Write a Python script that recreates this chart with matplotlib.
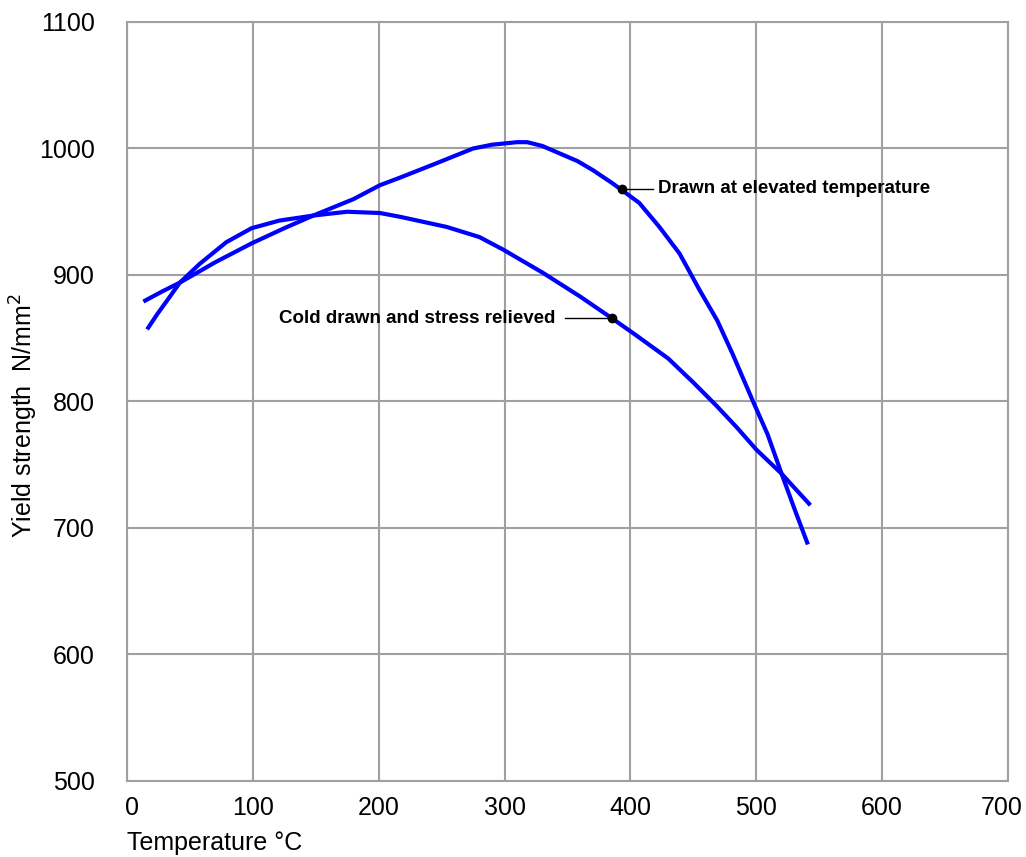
import numpy as np
import matplotlib.pyplot as plt
from matplotlib.transforms import ScaledTranslation

# Drawn at elevated temperature
elev_temp = [13, 28, 42, 70, 99, 125, 148, 180, 201, 217, 245, 275, 290, 300,
             310, 318, 330, 344, 358, 370, 385, 392, 407, 423, 439, 455, 469,
             481, 497, 509, 519, 530, 541]
elev_ys = [879, 887, 894, 910, 925, 937, 947, 960, 971, 977, 988, 1000, 1003, 1004,
           1005, 1005, 1002, 996, 990, 983, 973, 968, 957, 938, 917, 888, 864,
           838, 801, 774, 746, 716, 687]

# Cold drawn and stress relieved
cold_temp = [16, 24, 32, 42, 58, 79, 99, 121, 148, 175, 201, 217, 254, 280,
             299, 330, 360, 385, 405, 430, 450, 469, 485, 500, 520, 543]
cold_ys = [857, 869, 880, 894, 909, 926, 937, 943, 947, 950, 949, 946, 938, 930,
           920, 902, 883, 866, 852, 834, 815, 796, 779, 762, 743, 718]

x_ticks = [0, 100, 200, 300, 400, 500, 600, 700]
y_ticks = [500, 600, 700, 800, 900, 1000, 1100]

plt.rcParams["font.family"] = ["Liberation Sans", "DejaVu Sans"]

fig = plt.figure(figsize=(10.26, 8.57), dpi=100)
ax = fig.add_axes([127 / 1026, 1 - 781 / 857, 881 / 1026, 759 / 857])

ax.set_xlim(0, 700)
ax.set_ylim(500, 1100)
ax.set_xticks(x_ticks)
ax.set_yticks(y_ticks)
ax.grid(True, color="#a0a0a0", linewidth=1.5)
ax.set_axisbelow(True)
for s in ax.spines.values():
    s.set_color("#a0a0a0")
    s.set_linewidth(1.5)
ax.tick_params(length=0, labelsize=18, pad=11)
ax.tick_params(axis="y", pad=23)

# first and last x labels sit a bit inward, as in the original
xlabels = ax.get_xticklabels()
xlabels[0].set_transform(xlabels[0].get_transform()
                         + ScaledTranslation(5 / 100, 0, fig.dpi_scale_trans))
xlabels[-1].set_transform(xlabels[-1].get_transform()
                          + ScaledTranslation(-6 / 100, 0, fig.dpi_scale_trans))

ax.plot(elev_temp, elev_ys, color="#0000ff", lw=3, solid_capstyle="butt",
        solid_joinstyle="round")
ax.plot(cold_temp, cold_ys, color="#0000ff", lw=3, solid_capstyle="butt",
        solid_joinstyle="round")

# annotations
ax.plot([393, 418], [968, 968], color="black", lw=1)
ax.plot(393, 968, "o", color="black", ms=6)
ax.text(422, 968, "Drawn at elevated temperature",
        fontweight="bold", fontsize=13.5, va="center", ha="left")

ax.plot([348, 385], [866, 866], color="black", lw=1)
ax.plot(385, 866, "o", color="black", ms=6)
ax.text(340, 866, "Cold drawn and stress relieved",
        fontweight="bold", fontsize=13.5, va="center", ha="right")

fig.text(127 / 1026, 1 - 843 / 857, "Temperature \u00b0C", fontsize=18,
         ha="left", va="center")
fig.text(24 / 1026, 1 - 415 / 857, "Yield strength  N/mm$^2$", fontsize=18,
         rotation=90, ha="center", va="center")

fig.savefig("out.png", dpi=100, facecolor="white")
